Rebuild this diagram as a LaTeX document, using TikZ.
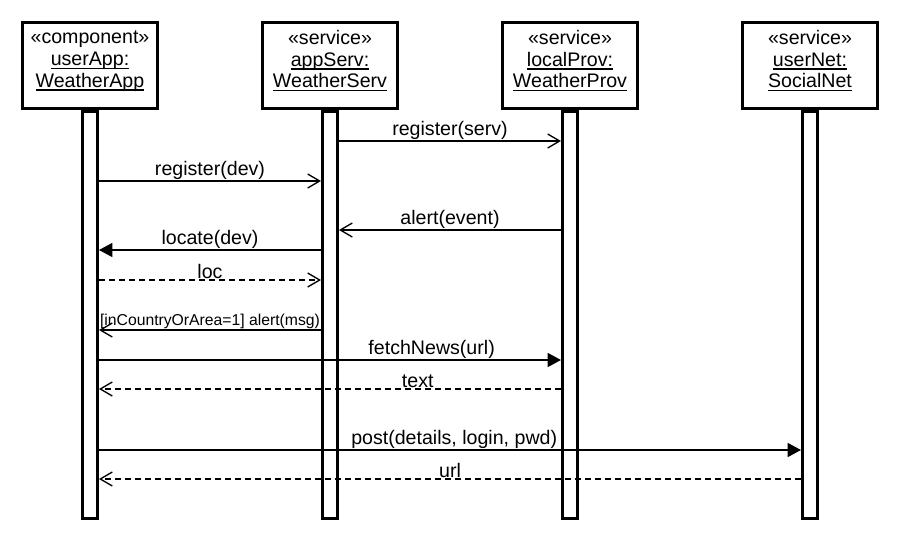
\documentclass[tikz,border=0pt]{standalone}
\usepackage{fontspec}
\setmainfont{Liberation Sans}
\usetikzlibrary{arrows.meta,positioning}
\newcommand{\objname}[1]{{\setbox0\hbox{#1}\rlap{\rule[-2.6pt]{\wd0}{1pt}}\box0}}
\tikzset{
  lifeline/.style={draw,line width=2.25pt,align=center,
    minimum width=101.25pt,minimum height=64.5pt,inner sep=0pt,
    font=\fontsize{14.7}{16.2}\selectfont,text depth=9.6pt},
  activation/.style={draw,line width=2.25pt,fill=white,anchor=north,
    minimum width=11.25pt,minimum height=305.25pt,inner sep=0pt},
  messages/.style={
    line width=1pt,
    every node/.style={above,inner sep=0.8pt,font=\fontsize{14.7}{16}\selectfont}
  },
  call/.style={-{Straight Barb[length=9pt,width=10.5pt]}},
  sync/.style={-{Triangle[length=10pt,width=10.5pt]}},
  reply/.style={call,dash pattern=on 4.5pt off 3pt}
}

\begin{document}
\begin{tikzpicture}[x=0.75pt,y=-0.75pt,node distance=180pt]
  \useasboundingbox (0,0) rectangle (900,540);
  % lifeline heads
  \node[lifeline] (userApp) at (90,65.5) {«component»\\\objname{userApp:}\\\objname{WeatherApp}};
  \node[lifeline] (appServ) [right of=userApp] {«service»\\\objname{appServ:}\\\objname{WeatherServ}};
  \node[lifeline] (localProv) [right of=appServ] {«service»\\\objname{localProv:}\\\objname{WeatherProv}};
  \node[lifeline] (userNet) [right of=localProv] {«service»\\\objname{userNet:}\\\objname{SocialNet}};
  % activation bars
  \node[activation] (userAppBar) at (userApp.south) {};
  \node[activation] (appServBar) at (appServ.south) {};
  \node[activation] (localProvBar) at (localProv.south) {};
  \node[activation] (userNetBar) at (userNet.south) {};
  \path[messages]
    (appServBar.east |- 0,141) edge[call] node {register(serv)} (localProvBar.west |- 0,141)
    (userAppBar.east |- 0,181) edge[call] node {register(dev)} (appServBar.west |- 0,181)
    (localProvBar.west |- 0,230) edge[call] node {alert(event)} (appServBar.east |- 0,230)
    (appServBar.west |- 0,250) edge[sync] node {locate(dev)} (userAppBar.east |- 0,250)
    (userAppBar.east |- 0,280) edge[reply] node {loc} (appServBar.west |- 0,280)
    (appServBar.west |- 0,330) edge[call] node[font=\fontsize{11.8}{13}\selectfont] {[inCountryOrArea=1] alert(msg)} (userAppBar.east |- 0,330)
    (userAppBar.east |- 0,360) edge[sync] node[pos=0.72] {fetchNews(url)} (localProvBar.west |- 0,360)
    (localProvBar.west |- 0,389) edge[reply] node[pos=0.31] {text} (userAppBar.east |- 0,389)
    (userAppBar.east |- 0,450) edge[sync] node[pos=0.506] {post(details, login, pwd)} (userNetBar.west |- 0,450)
    (userNetBar.west |- 0,479) edge[reply] node {url} (userAppBar.east |- 0,479)
    ;
\end{tikzpicture}
\end{document}
